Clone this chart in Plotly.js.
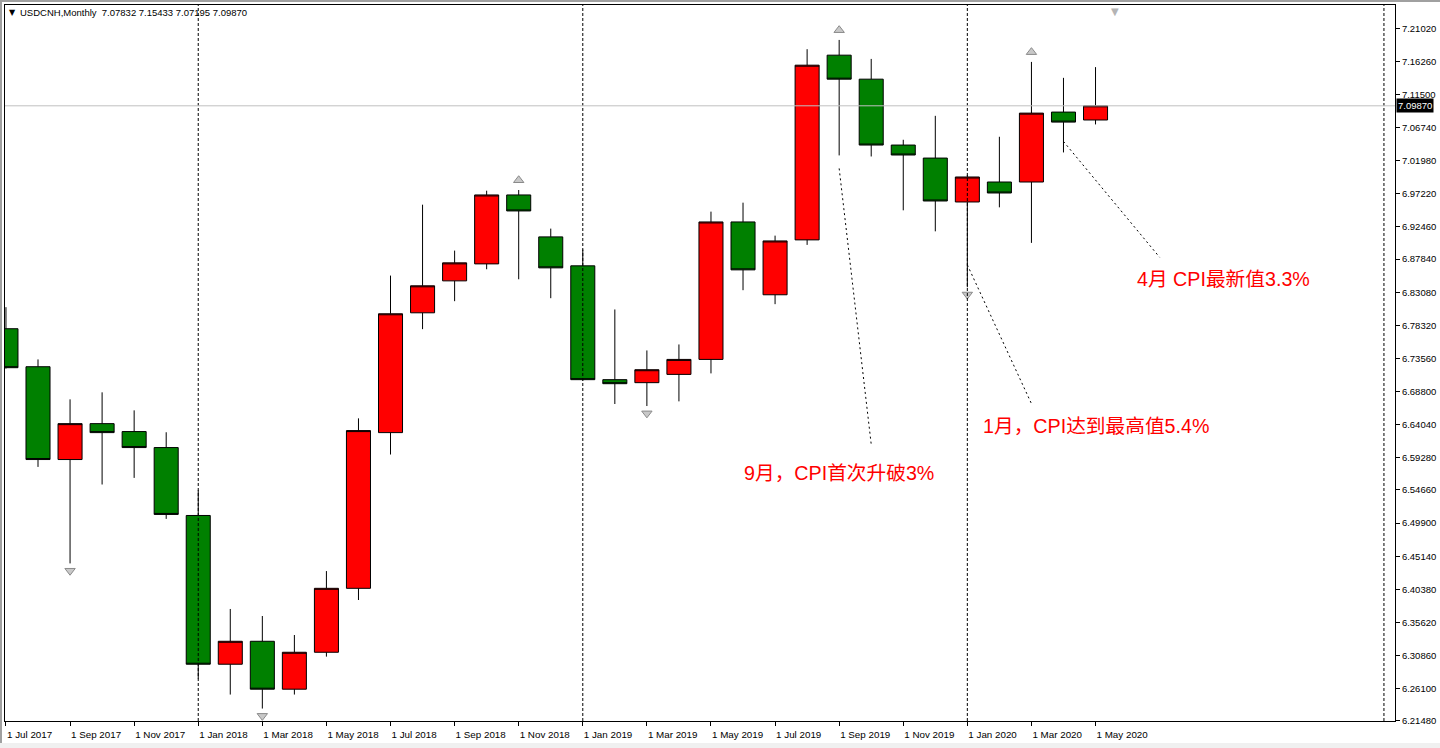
<!DOCTYPE html>
<html>
<head>
<meta charset="utf-8">
<script src="https://cdn.plot.ly/plotly-3.0.1.min.js"></script>
<style>
  html, body { margin: 0; padding: 0; background: #f0f0f0; }
  #wrap { position: relative; width: 1440px; height: 748px; background: #f0f0f0; overflow: hidden; }
  #topline { position: absolute; left: 0; top: 0; width: 1440px; height: 2px; background: #a0a0a0; }
  #leftline { position: absolute; left: 0; top: 0; width: 2px; height: 743px; background: #a0a0a0; }
  #chart { position: absolute; left: 2px; top: 2px; width: 1438px; height: 741px; background: #ffffff; }
</style>
</head>
<body>
<div id="wrap">
  <div id="topline"></div>
  <div id="leftline"></div>
  <div id="chart"></div>
</div>
<script>
// ---- data (monthly USDCNH candles) ----
const months = ["Jul 2017","Aug 2017","Sep 2017","Oct 2017","Nov 2017","Dec 2017",
  "Jan 2018","Feb 2018","Mar 2018","Apr 2018","May 2018","Jun 2018","Jul 2018","Aug 2018","Sep 2018","Oct 2018","Nov 2018","Dec 2018",
  "Jan 2019","Feb 2019","Mar 2019","Apr 2019","May 2019","Jun 2019","Jul 2019","Aug 2019","Sep 2019","Oct 2019","Nov 2019","Dec 2019",
  "Jan 2020","Feb 2020","Mar 2020","Apr 2020","May 2020"];
const opens  = [6.7783,6.7237,6.5903,6.6419,6.6305,6.6075, 6.5099,6.2961,6.3291,6.2602,6.3133,6.4052,6.6290,6.8012,6.8471,6.8715,6.9706,6.9103,
  6.8687,6.7051,6.7008,6.7127,6.7342,6.9318,6.8271,6.9060,7.1715,7.1370,7.0423,7.0236, 6.9605,6.9892,6.9892,7.0897,7.07832];
const highs  = [6.8093,6.7342,6.6768,6.6869,6.6610,6.6295, 6.5462,6.3755,6.3654,6.3381,6.4300,6.6495,6.8547,6.9566,6.8906,6.9767,6.9777,6.9222,
  6.8921,6.8060,6.7471,6.7557,6.9466,6.9595,6.9121,7.1801,7.1934,7.1661,7.0499,7.0843, 6.9990,7.0542,7.1618,7.1389,7.15433];
const lows   = [6.7210,6.5797,6.4410,6.5544,6.5639,6.5050, 6.2754,6.2525,6.2324,6.2525,6.3070,6.3884,6.5975,6.7777,6.8179,6.8638,6.8494,6.8222,
  6.7040,6.6701,6.6672,6.6739,6.7141,6.8337,6.8136,6.8988,7.0274,7.0259,6.9485,6.9183, 6.8380,6.9528,6.9017,7.0317,7.07195];
const closes = [6.7223,6.5903,6.6419,6.6290,6.6075,6.5114, 6.2961,6.3291,6.2602,6.3133,6.4052,6.6319,6.7998,6.8400,6.8730,6.9706,6.9476,6.8658,
  6.7051,6.6993,6.7194,6.7342,6.9318,6.8629,6.9045,7.1571,7.1370,7.0423,7.0280,6.9619, 6.9964,6.9734,7.0882,7.0753,7.09870];

const symbolName = "USDCNH,Monthly";
const yTickLabels = ["6.21480","6.26100","6.30860","6.35620","6.40380","6.45140","6.49900","6.54660","6.59280","6.64040","6.68800",
  "6.73560","6.78320","6.83080","6.87840","6.92460","6.97220","7.01980","7.06740","7.11500","7.16260","7.21020"];
const xTickMonths = ["Jul 2017","Sep 2017","Nov 2017","Jan 2018","Mar 2018","May 2018","Jul 2018","Sep 2018","Nov 2018","Jan 2019",
  "Mar 2019","May 2019","Jul 2019","Sep 2019","Nov 2019","Jan 2020","Mar 2020","May 2020"];
const separatorMonths = ["Jan 2018","Jan 2019","Jan 2020"];
const fractalUp = ["Nov 2018","Sep 2019","Mar 2020"];
const fractalDown = ["Sep 2017","Mar 2018","Mar 2019","Jan 2020"];

// notes: text, month the leader starts at, price where leader starts, end (month index, price), text position
const noteTexts = ["9月，CPI首次升破3%", "1月，CPI达到最高值5.4%", "4月 CPI最新值3.3%"];
const noteFromMonth = ["Sep 2019", "Jan 2020", "Apr 2020"];
const noteFromPrice = [7.0087, 6.8701, 7.0475];
const noteToIndex = [27.0, 32.0, 36.0];
const noteToPrice = [6.6122, 6.6706, 6.8810];
const noteTextIndex = [26.0, 34.0, 38.0];
const noteTextPrice = [6.5706, 6.6381, 6.8505];

// ---- build ----
const idx = months.map((m, i) => i);
const mi = m => months.indexOf(m);
const last = months.length - 1;
const fmt = v => v.toFixed(5);

const FONT = "Liberation Sans, Arial, Noto Sans CJK SC, sans-serif";

const candle = {
  type: "candlestick",
  x: idx, open: opens, high: highs, low: lows, close: closes,
  increasing: { line: { color: "#000000", width: 1 }, fillcolor: "#FF0000" },
  decreasing: { line: { color: "#000000", width: 1 }, fillcolor: "#008000" },
  whiskerwidth: 0,
  hoverinfo: "skip",
  showlegend: false
};

const upMarks = {
  type: "scatter", mode: "markers",
  x: fractalUp.map(mi),
  y: fractalUp.map(m => highs[mi(m)] + 0.0140),
  marker: { symbol: "triangle-up", size: 9, color: "#c8c8c8", line: { color: "#8a8a8a", width: 1 } },
  hoverinfo: "skip", showlegend: false
};
const downMarks = {
  type: "scatter", mode: "markers",
  x: fractalDown.map(mi),
  y: fractalDown.map(m => lows[mi(m)] - 0.0105),
  marker: { symbol: "triangle-down", size: 9, color: "#c8c8c8", line: { color: "#8a8a8a", width: 1 } },
  hoverinfo: "skip", showlegend: false
};

const shapes = [];
separatorMonths.forEach(m => shapes.push({
  type: "line", xref: "x", yref: "paper", x0: mi(m), x1: mi(m), y0: 0, y1: 1,
  line: { color: "#000000", width: 1, dash: "3px,2px" }
}));
// chart shift separator near right edge
shapes.push({ type: "line", xref: "x", yref: "paper", x0: last + 9, x1: last + 9, y0: 0, y1: 1,
  line: { color: "#000000", width: 1, dash: "3px,2px" } });
// current price line
shapes.push({ type: "line", xref: "paper", yref: "y", x0: 0, x1: 1, y0: closes[last], y1: closes[last],
  line: { color: "#c0c0c0", width: 1 } });
// leader lines
noteTexts.forEach((t, k) => shapes.push({
  type: "line", xref: "x", yref: "y",
  x0: mi(noteFromMonth[k]), y0: noteFromPrice[k], x1: noteToIndex[k], y1: noteToPrice[k],
  line: { color: "#000000", width: 1, dash: "2px,3px" }
}));

const annotations = [];
noteTexts.forEach((t, k) => annotations.push({
  xref: "x", yref: "y", x: noteTextIndex[k], y: noteTextPrice[k], text: t, showarrow: false,
  xanchor: "center", yanchor: "middle",
  font: { family: FONT, size: 19.7, color: "#FF0000" }
}));
// header
annotations.push({
  xref: "paper", yref: "paper", x: 0, y: 1, xanchor: "left", yanchor: "middle", xshift: 2, yshift: -7.5,
  text: "▼", showarrow: false, font: { family: "DejaVu Sans", size: 8, color: "#000000" }
});
annotations.push({
  xref: "paper", yref: "paper", x: 0, y: 1, xanchor: "left", yanchor: "middle", xshift: 13, yshift: -7.5,
  text: symbolName + "\u00a0\u00a0" + [opens[last], highs[last], lows[last], closes[last]].map(fmt).join(" "),
  showarrow: false, font: { family: FONT, size: 9.5, color: "#000000" }
});
// current price label
annotations.push({
  xref: "paper", yref: "y", x: 1, y: closes[last], xanchor: "left", yanchor: "middle", xshift: 1,
  text: fmt(closes[last]), showarrow: false, bgcolor: "#000000", borderpad: 1,
  font: { family: FONT, size: 9.5, color: "#ffffff" }
});
// chart shift marker at top
annotations.push({
  xref: "x", yref: "paper", x: last + 0.62, y: 1, xanchor: "center", yanchor: "top", yshift: 1,
  text: "▼", showarrow: false, font: { family: "DejaVu Sans", size: 10, color: "#b4b4b4" }
});

const layout = {
  width: 1438, height: 741,
  margin: { l: 3, r: 45, t: 3, b: 22, pad: 0 },
  paper_bgcolor: "#ffffff", plot_bgcolor: "#ffffff",
  showlegend: false, hovermode: false,
  boxgap: 0.25, boxgroupgap: 0,
  xaxis: {
    type: "linear", range: [-0.03, 43.345], autorange: false,
    rangeslider: { visible: false },
    tickmode: "array", tickvals: xTickMonths.map(mi), ticktext: xTickMonths.map(m => "1 " + m),
    ticks: "outside", ticklen: 4, tickcolor: "#000000", tickwidth: 1,
    ticklabelposition: "outside right", ticklabelstandoff: 4,
    tickfont: { family: FONT, size: 9.8, color: "#000000" },
    showgrid: false, zeroline: false,
    showline: true, linecolor: "#000000", linewidth: 1, mirror: true,
    automargin: false, fixedrange: true
  },
  yaxis: {
    side: "right", range: [6.2145, 7.2436], autorange: false,
    tickmode: "array", tickvals: yTickLabels.map(Number), ticktext: yTickLabels,
    ticks: "outside", ticklen: 4, tickcolor: "#000000", tickwidth: 1,
    tickfont: { family: FONT, size: 9.5, color: "#000000" },
    showgrid: false, zeroline: false,
    showline: true, linecolor: "#000000", linewidth: 1, mirror: true,
    automargin: false, fixedrange: true
  },
  shapes: shapes,
  annotations: annotations
};

Plotly.newPlot("chart", [candle, upMarks, downMarks], layout, { staticPlot: true, displayModeBar: false });
</script>
</body>
</html>
